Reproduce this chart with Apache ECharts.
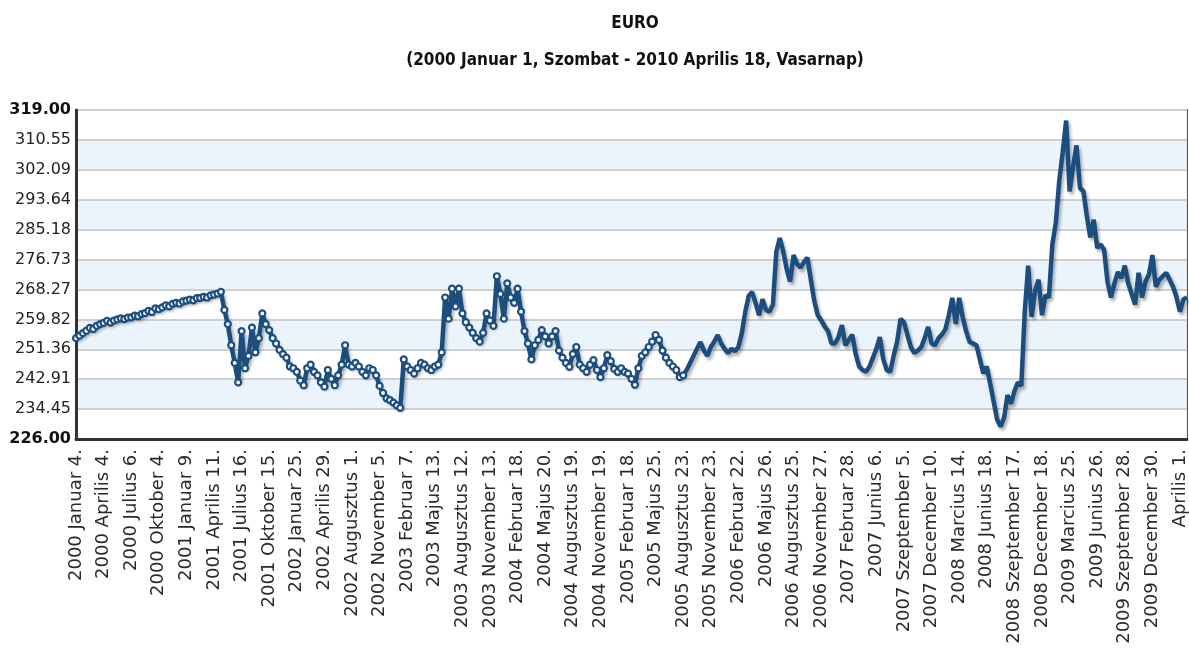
<!DOCTYPE html>
<html><head><meta charset="utf-8">
<script src="https://cdn.jsdelivr.net/npm/echarts@6/dist/echarts.min.js"></script>
<style>html,body{margin:0;padding:0;background:#fff}#c{width:1189px;height:648px}</style>
</head><body><div id="c"></div>
<script>
const chartTitle = 'EURO';
const chartSubtitle = '(2000 Januar 1, Szombat - 2010 Aprilis 18, Vasarnap)';

const xTickLabels = [
  '2000 Januar 4.', '2000 Aprilis 4.', '2000 Julius 6.', '2000 Oktober 4.', '2001 Januar 9.',
  '2001 Aprilis 11.', '2001 Julius 16.', '2001 Oktober 15.', '2002 Januar 25.', '2002 Aprilis 29.',
  '2002 Augusztus 1.', '2002 November 5.', '2003 Februar 7.', '2003 Majus 13.', '2003 Augusztus 12.',
  '2003 November 13.', '2004 Februar 18.', '2004 Majus 20.', '2004 Augusztus 19.', '2004 November 19.',
  '2005 Februar 18.', '2005 Majus 25.', '2005 Augusztus 23.', '2005 November 23.', '2006 Februar 22.',
  '2006 Majus 26.', '2006 Augusztus 25.', '2006 November 27.', '2007 Februar 28.', '2007 Junius 6.',
  '2007 Szeptember 5.', '2007 December 10.', '2008 Marcius 14.', '2008 Junius 18.', '2008 Szeptember 17.',
  '2008 December 18.', '2009 Marcius 25.', '2009 Junius 26.', '2009 Szeptember 28.', '2009 December 30.',
  'Aprilis 1.'
];
const pointsPerTick = 8;

const yTickLabels = ['226.00', '234.45', '242.91', '251.36', '259.82', '268.27',
  '276.73', '285.18', '293.64', '302.09', '310.55', '319.00'];

// 2000 Jan -> 2005 Aug (drawn with point markers)
const ratesWithMarkers = [
  254.5, 255.2, 255.9, 256.6, 257.4, 257.1, 258.0, 258.5, 258.8, 259.4, 258.9, 259.5, 259.8, 260.1,
  259.9, 260.3, 260.4, 260.9, 260.7, 261.3, 261.6, 262.2, 261.9, 262.9, 262.7, 263.2, 263.8, 263.5,
  264.2, 264.5, 264.3, 264.9, 265.1, 265.4, 265.2, 265.8, 265.9, 266.2, 266.0, 266.6, 266.8, 267.1, 267.6,
  262.5, 258.5, 252.5, 247.5, 242.0, 256.5, 246.0, 249.5, 257.5, 250.5, 254.5, 261.5, 258.5, 256.8,
  254.5, 253.0, 251.2, 250.0, 249.0, 246.5, 246.0, 245.0,
  242.5, 241.2, 246.0, 247.0, 245.0, 244.0, 242.0, 240.8, 245.5, 243.0, 241.2, 244.0, 247.0, 252.5,
  247.0, 246.5, 247.5, 246.5, 245.0, 244.0, 246.0, 245.5, 244.0, 241.0, 239.0, 237.5, 237.0, 236.3, 235.5, 234.8,
  248.5, 246.5, 245.5, 244.5, 246.0, 247.5, 247.0, 246.0, 245.5, 246.5, 247.0, 250.5, 266.0, 260.0,
  268.5, 263.5, 268.5, 261.5, 259.0, 257.5, 256.0, 254.5, 253.5, 256.0, 261.5, 259.5, 258.0,
  272.0, 267.0, 260.0, 270.0, 266.0, 264.5, 268.5, 262.0, 256.5, 253.0, 248.5, 252.5, 254.0, 256.8,
  255.0, 253.0, 255.0, 256.5, 251.0, 249.0, 247.5, 246.4, 250.0, 252.0, 247.0, 246.0, 245.0, 247.0, 248.3,
  245.5, 243.5, 246.0, 249.7, 248.0, 245.8, 245.0, 246.0, 245.0, 244.5, 243.0, 241.3, 246.0, 249.5,
  250.5, 252.0, 253.5, 255.4, 254.0, 251.0, 249.0, 247.5, 246.5, 245.5, 243.5, 244.0
];

// 2005 Aug -> 2010 Apr (plain line)
const ratesPlain = [
  245.5, 247.5, 249.5, 251.5, 253.4, 251.0, 249.5, 252.0, 253.5, 255.4, 253.0, 251.5, 250.3, 251.5, 250.8, 252.0,
  256.0, 262.0, 266.5, 267.5, 264.4, 261.0, 265.5, 262.5, 262.0, 264.0, 279.0, 282.8, 279.0, 274.0,
  270.5, 278.0, 275.5, 274.5, 276.0, 277.3, 271.0, 265.0, 261.0,
  259.6, 257.8, 256.5, 253.0, 253.0, 254.8, 258.2, 252.5, 254.0, 255.5, 250.0, 246.5, 245.5, 245.0,
  246.5, 249.0, 251.5, 254.8, 248.5, 245.5, 245.0, 249.5, 253.5, 260.0, 259.0,
  255.4, 252.0, 250.3, 251.0, 252.0, 254.5, 257.7, 253.0, 252.5, 254.5, 255.5, 257.0, 261.0, 265.9,
  258.5, 265.9, 260.5, 256.5, 253.5, 253.0, 252.5, 248.5, 244.5, 246.5, 241.5,
  236.5, 231.5, 229.5, 232.0, 238.4, 236.0, 239.5, 242.0, 241.0, 262.0, 275.0, 260.5, 268.0, 271.0,
  261.0, 266.7, 266.0, 281.0, 287.0, 299.0, 307.0, 316.0, 296.0, 303.0, 309.0,
  297.0, 296.0, 289.0, 283.0, 288.0, 280.0, 281.0, 279.5, 270.4, 266.0, 270.0, 273.2, 271.5, 275.0,
  270.0, 267.0, 264.0, 273.0, 266.0, 270.5, 272.5, 278.0, 269.0, 271.0, 272.0, 273.0, 271.0, 269.0,
  266.0, 262.0, 265.5, 266.0
];

const total = ratesWithMarkers.length + ratesPlain.length;
const categories = [];
for (let i = 0; i < total; i++) {
  categories.push(i % pointsPerTick === 0 && xTickLabels[i / pointsPerTick] ? xTickLabels[i / pointsPerTick] : '');
}
const nA = ratesWithMarkers.length;
const dataA = ratesWithMarkers.concat(ratesPlain.map(() => null));
const dataB = ratesWithMarkers.map((v, i) => (i === nA - 1 ? v : null)).concat(ratesPlain);

const yMin = parseFloat(yTickLabels[0]);
const yMax = parseFloat(yTickLabels[yTickLabels.length - 1]);
const yStep = (yMax - yMin) / (yTickLabels.length - 1);

const lineColor = '#1b4e7e';
const shadow = { shadowColor: 'rgba(0,0,0,0.3)', shadowBlur: 3, shadowOffsetX: 2, shadowOffsetY: 3 };
const titleFont = "'DejaVu Sans Condensed', 'Liberation Sans Narrow', 'Liberation Sans', sans-serif";

const chart = echarts.init(document.getElementById('c'), null, { renderer: 'canvas' });
chart.setOption({
  animation: false,
  backgroundColor: '#ffffff',
  title: [
    { text: chartTitle, left: 630, textAlign: 'center', top: 10,
      textStyle: { fontFamily: titleFont, fontWeight: 'bold', fontSize: 17, color: '#111' } },
    { text: chartSubtitle, left: 630, textAlign: 'center', top: 47,
      textStyle: { fontFamily: titleFont, fontWeight: 'bold', fontSize: 17, color: '#111' } }
  ],
  grid: { left: 76, right: 2, top: 110, bottom: 209, show: true, borderColor: '#444', borderWidth: 2,
    backgroundColor: 'transparent' },
  xAxis: {
    type: 'category', boundaryGap: false, data: categories,
    axisTick: { show: false },
    axisLine: { show: true, lineStyle: { color: '#333', width: 3 } },
    axisLabel: {
      rotate: 90, interval: (i) => i % pointsPerTick === 0, margin: 10,
      fontFamily: 'DejaVu Sans', fontSize: 18, color: '#2a2a2a'
    },
    splitLine: { show: false }
  },
  yAxis: {
    type: 'value', min: yMin, max: yMax, interval: yStep,
    axisTick: { show: false },
    axisLine: { show: true, lineStyle: { color: '#333', width: 3 } },
    axisLabel: {
      margin: 5, fontFamily: 'DejaVu Sans', fontSize: 16, color: '#222',
      formatter: (v) => {
        const k = Math.round((v - yMin) / yStep);
        const s = yTickLabels[k];
        return (k === 0 || k === yTickLabels.length - 1) ? '{b|' + s + '}' : s;
      },
      rich: { b: { fontFamily: 'DejaVu Sans', fontWeight: 'bold', fontSize: 16, color: '#111' } }
    },
    splitLine: { show: true, lineStyle: { color: '#cfcfcf', width: 2 } },
    splitArea: { show: true, areaStyle: { color: ['#ffffff', '#ebf3fc'] } }
  },
  series: [
    {
      type: 'line', data: dataA, connectNulls: false,
      symbol: 'circle', symbolSize: 6, showSymbol: true, showAllSymbol: true,
      lineStyle: Object.assign({ color: lineColor, width: 4.5 }, shadow),
      itemStyle: { color: '#ffffff', borderColor: lineColor, borderWidth: 2.2 }
    },
    {
      type: 'line', data: dataB, connectNulls: false, symbol: 'none',
      lineStyle: Object.assign({ color: lineColor, width: 4.5 }, shadow)
    }
  ]
});
</script>
</body></html>
